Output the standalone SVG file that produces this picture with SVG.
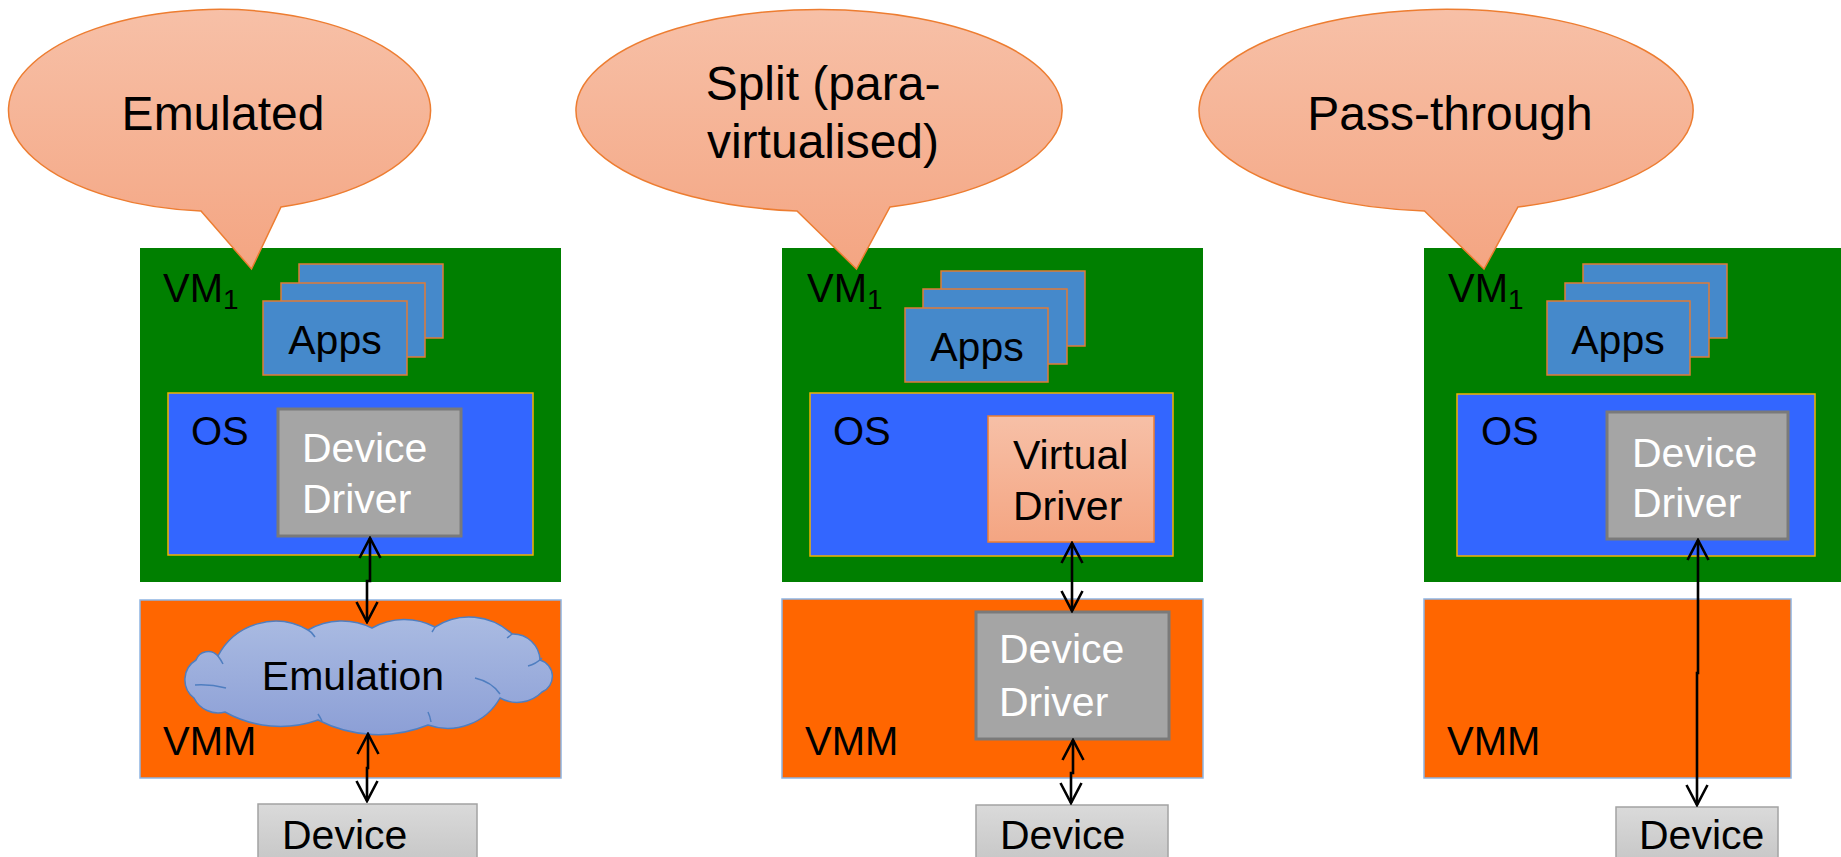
<svg xmlns="http://www.w3.org/2000/svg" width="1841" height="857" viewBox="0 0 1841 857">
  <defs>
    <linearGradient id="bubbleFill" x1="0" y1="0" x2="0" y2="1">
      <stop offset="0" stop-color="#F7C0A7"/>
      <stop offset="1" stop-color="#F4A582"/>
    </linearGradient>
    <linearGradient id="cloudFill" x1="0" y1="0" x2="0" y2="1">
      <stop offset="0" stop-color="#AABBE2"/>
      <stop offset="1" stop-color="#8C9FD6"/>
    </linearGradient>
    <linearGradient id="deviceFill" x1="0" y1="0" x2="0" y2="1">
      <stop offset="0" stop-color="#DADADA"/>
      <stop offset="1" stop-color="#C4C4C4"/>
    </linearGradient>
    <marker id="ah" viewBox="-24 -13 26 26" markerWidth="26" markerHeight="26" refX="0" refY="0" markerUnits="userSpaceOnUse" orient="auto-start-reverse">
      <path d="M -20,-10.5 L 0,0 L -20,10.5" fill="none" stroke="#000" stroke-width="2.6"/>
    </marker>
  </defs>
  <style>
    text { font-family: "Liberation Sans", Arial, sans-serif; fill: #000; }
    .bubble { fill: url(#bubbleFill); stroke: #ED7D31; stroke-width: 1.5; }
    .bt { font-size: 48px; text-anchor: middle; }
    .vm { fill: #007F00; }
    .lbl { font-size: 40px; }
    .sub { font-size: 28px; }
    .app { fill: #4589CB; stroke: #E07B39; stroke-width: 1.5; }
    .at { font-size: 41px; }
    .os { fill: #3366FF; stroke: #F2B200; stroke-width: 1.5; }
    .drv { fill: #A5A5A5; stroke: #7A7A7A; stroke-width: 3; }
    .dt { font-size: 41px; fill: #FFFFFF; }
    .vdrv { fill: url(#bubbleFill); stroke: #ED7D31; stroke-width: 1.5; }
    .vmm { fill: #FF6600; stroke: #8DB4E2; stroke-width: 1.5; }
    .cloud { fill: url(#cloudFill); stroke: #4F7EC0; stroke-width: 1.5; }
    .crease { fill: none; stroke: #4F7EC0; stroke-width: 1.5; }
    .dev { fill: url(#deviceFill); stroke: #A3A3A3; stroke-width: 1.5; }
    .conn { fill: none; stroke: #000; stroke-width: 2.6; marker-start: url(#ah); marker-end: url(#ah); }
  </style>

  <!-- ===== Emulated column ===== -->
  <g id="vm-emulated">
    <rect class="vm" x="140" y="248" width="421" height="334"/>
    <text class="lbl" x="163" y="302">VM<tspan class="sub" dy="7">1</tspan></text>
  </g>
  <g id="apps-emulated">
    <rect class="app" x="299" y="264" width="144" height="74"/>
    <rect class="app" x="281" y="283" width="144" height="74"/>
    <rect class="app" x="263" y="301" width="144" height="74"/>
    <text class="at" x="335" y="354" text-anchor="middle">Apps</text>
  </g>
  <g id="os-emulated">
    <rect class="os" x="168" y="393" width="365" height="162"/>
    <text class="lbl" x="191" y="445">OS</text>
  </g>
  <g id="driver-emulated">
    <rect class="drv" x="278" y="409" width="183" height="127"/>
    <text class="dt" x="302" y="462">Device</text>
    <text class="dt" x="302" y="513">Driver</text>
  </g>
  <g id="vmm-emulated">
    <rect class="vmm" x="140" y="600" width="421" height="178"/>
    <text class="lbl" x="163" y="755">VMM</text>
  </g>
  <g id="emulation">
    <path class="cloud" d="M 194,698 A 23,23 0 0 1 196,660 A 13,13 0 0 1 218,656 A 65,65 0 0 1 308,630 A 68,68 0 0 1 372,628 A 66,66 0 0 1 435,627 A 63,63 0 0 1 512,634 A 27,27 0 0 1 540,660 A 17,17 0 0 1 542,692 A 35,35 0 0 1 500,698 A 60,60 0 0 1 428,725 A 132,132 0 0 1 318,720 A 113,113 0 0 1 225,712 A 27,27 0 0 1 194,698 Z"/>
    <path class="crease" d="M 218,656 Q 221,660 223,664 M 308,630 Q 312,632 315,637 M 435,627 Q 434,629 432,632 M 512,634 Q 510,636 507,638 M 528,666 Q 536,664 542,658 M 475,678 Q 492,682 500,694 M 428,712 Q 430,716 431,722 M 318,714 Q 320,717 322,721 M 195,685 Q 210,684 226,688"/>
    <text x="353" y="690" font-size="41" text-anchor="middle">Emulation</text>
  </g>
  <g id="device-emulated">
    <rect class="dev" x="258" y="804" width="219" height="66"/>
    <text x="282" y="849" font-size="41">Device</text>
  </g>

  <!-- ===== Split (para-virtualised) column ===== -->
  <g id="vm-split">
    <rect class="vm" x="782" y="248" width="421" height="334"/>
    <text class="lbl" x="807" y="302">VM<tspan class="sub" dy="7">1</tspan></text>
  </g>
  <g id="apps-split">
    <rect class="app" x="941" y="271" width="144" height="75"/>
    <rect class="app" x="923" y="289" width="144" height="75"/>
    <rect class="app" x="905" y="308" width="143" height="74"/>
    <text class="at" x="977" y="361" text-anchor="middle">Apps</text>
  </g>
  <g id="os-split">
    <rect class="os" x="810" y="393" width="363" height="163"/>
    <text class="lbl" x="833" y="445">OS</text>
  </g>
  <g id="virtual-driver">
    <rect class="vdrv" x="988" y="416" width="166" height="126"/>
    <text x="1013" y="469" font-size="41">Virtual</text>
    <text x="1013" y="520" font-size="41">Driver</text>
  </g>
  <g id="vmm-split">
    <rect class="vmm" x="782" y="599" width="421" height="179"/>
    <text class="lbl" x="805" y="755">VMM</text>
  </g>
  <g id="driver-split">
    <rect class="drv" x="976" y="612" width="193" height="127"/>
    <text class="dt" x="999" y="663">Device</text>
    <text class="dt" x="999" y="716">Driver</text>
  </g>
  <g id="device-split">
    <rect class="dev" x="976" y="805" width="192" height="65"/>
    <text x="1000" y="849" font-size="41">Device</text>
  </g>

  <!-- ===== Pass-through column ===== -->
  <g id="vm-pass">
    <rect class="vm" x="1424" y="248" width="430" height="334"/>
    <text class="lbl" x="1448" y="302">VM<tspan class="sub" dy="7">1</tspan></text>
  </g>
  <g id="apps-pass">
    <rect class="app" x="1583" y="264" width="144" height="74"/>
    <rect class="app" x="1565" y="283" width="144" height="74"/>
    <rect class="app" x="1547" y="301" width="143" height="74"/>
    <text class="at" x="1618" y="354" text-anchor="middle">Apps</text>
  </g>
  <g id="os-pass">
    <rect class="os" x="1457" y="394" width="358" height="162"/>
    <text class="lbl" x="1481" y="445">OS</text>
  </g>
  <g id="driver-pass">
    <rect class="drv" x="1607" y="412" width="181" height="127"/>
    <text class="dt" x="1632" y="467">Device</text>
    <text class="dt" x="1632" y="517">Driver</text>
  </g>
  <g id="vmm-pass">
    <rect class="vmm" x="1424" y="599" width="367" height="179"/>
    <text class="lbl" x="1447" y="755">VMM</text>
  </g>
  <g id="device-pass">
    <rect class="dev" x="1616" y="807" width="162" height="63"/>
    <text x="1639" y="849" font-size="41">Device</text>
  </g>

  <!-- callout bubbles, drawn last so their tails overlap the VM boxes -->
  <g id="bubble-emulated">
    <path class="bubble" d="M 201,211 A 211,101 0 1 1 281,207 L 251.5,269 Z"/>
    <text class="bt" x="223" y="130">Emulated</text>
  </g>
  <g id="bubble-split">
    <path class="bubble" d="M 797,211 A 243,101 0 1 1 890,207 L 856.5,269 Z"/>
    <text class="bt" x="823" y="100">Split (para-</text>
    <text class="bt" x="823" y="158">virtualised)</text>
  </g>
  <g id="bubble-pass">
    <path class="bubble" d="M 1424.5,211 A 247,101 0 1 1 1518,207 L 1484,269 Z"/>
    <text class="bt" x="1450" y="130">Pass-through</text>
  </g>

  <!-- connectors -->
  <g id="connectors">
    <path class="conn" d="M 370,538 L 370,581 L 367,581 L 367,622"/>
    <path class="conn" d="M 368,734 L 368,768 L 367,768 L 367,801"/>
    <path class="conn" d="M 1072,543 L 1072,611"/>
    <path class="conn" d="M 1073,740 L 1073,773 L 1071,773 L 1071,803"/>
    <path class="conn" d="M 1698,540 L 1698,673 L 1697,673 L 1697,805"/>
  </g>
</svg>
